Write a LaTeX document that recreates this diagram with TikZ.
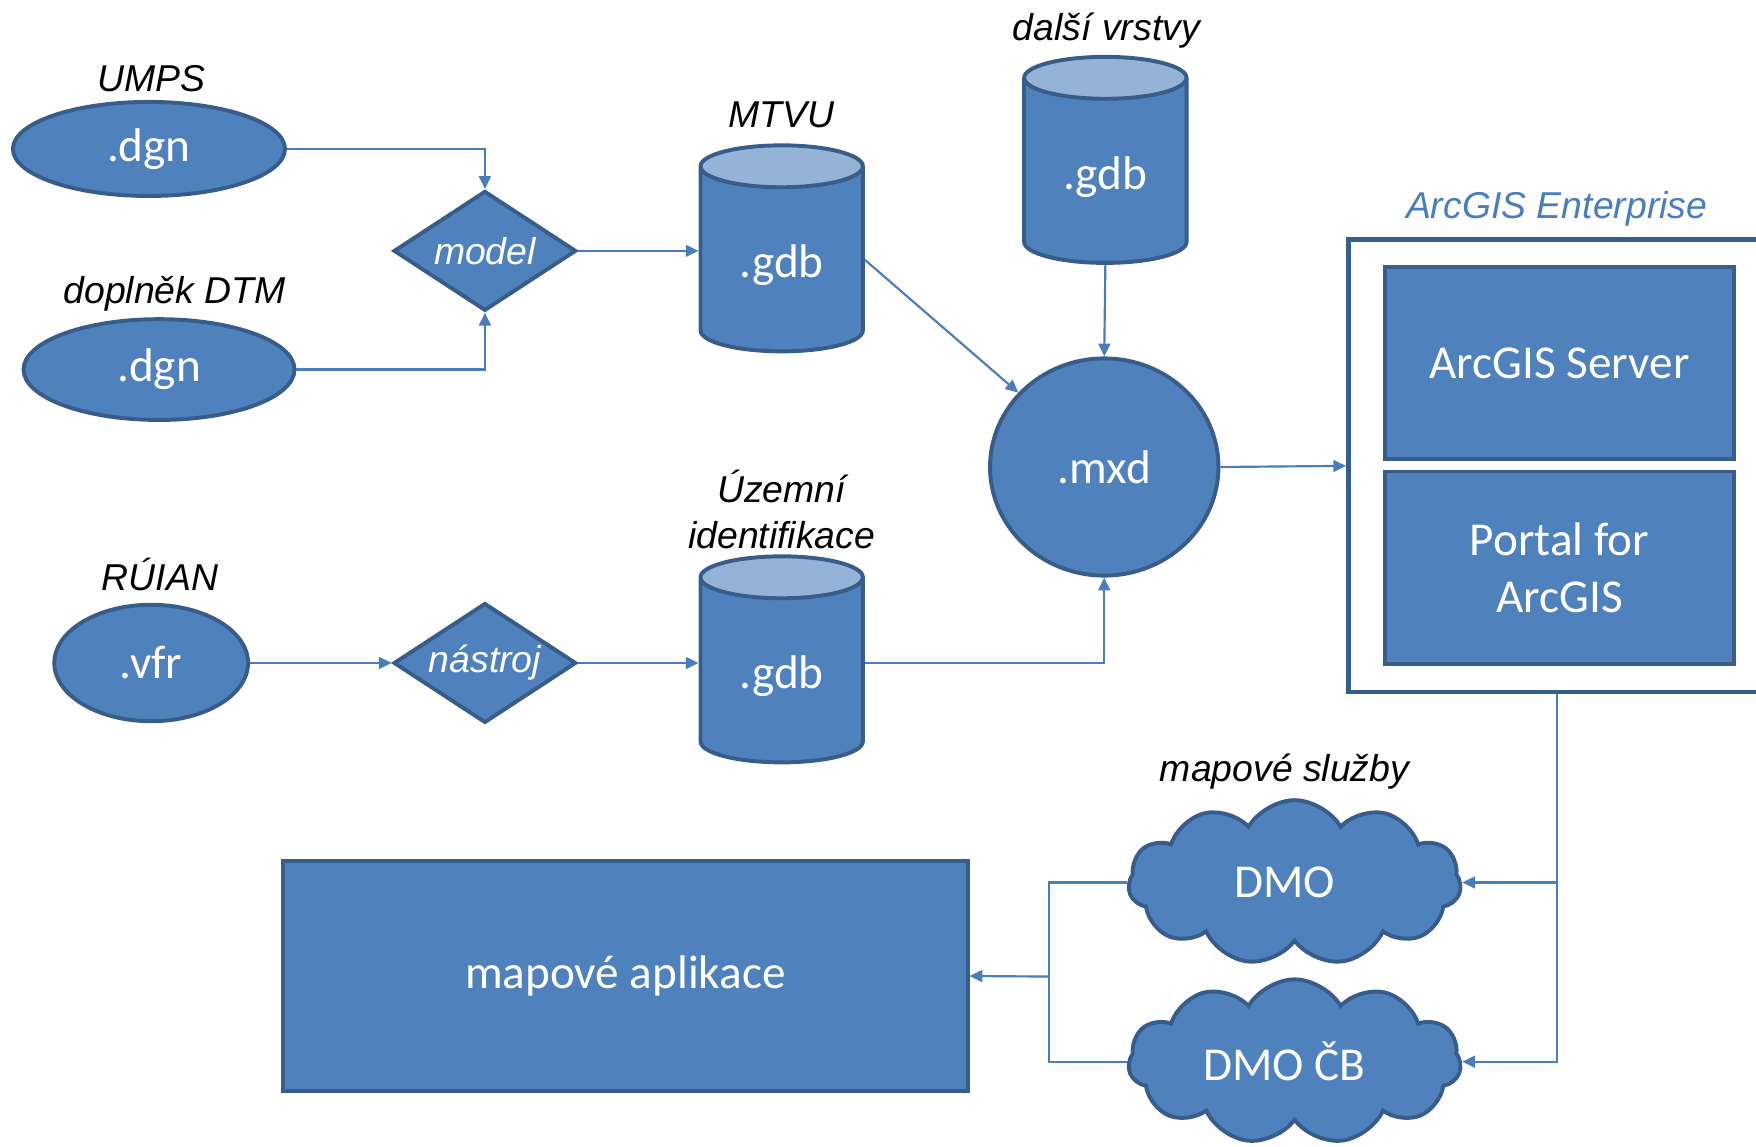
\documentclass[tikz,border=0pt]{standalone}
\usepackage{fontspec}
\setmainfont{Carlito}
\newfontfamily\arialfont{Liberation Sans}
\usepackage{tikz}
\usetikzlibrary{shapes.geometric, shapes.symbols, arrows.meta, positioning, calc}
\definecolor{shpfill}{RGB}{79,129,189}
\definecolor{shpline}{RGB}{56,93,138}
\definecolor{shptop}{RGB}{149,179,215}
\definecolor{connblue}{RGB}{74,126,187}
\newcommand{\shptxt}{\fontsize{24}{29}\selectfont}
\newcommand{\lbltxt}{\arialfont\itshape\fontsize{19}{23}\selectfont}
\tikzset{
  srcell/.style={ellipse, draw=shpline, fill=shpfill, line width=2pt,
    inner sep=0pt, text=white, font=\shptxt},
  tooldiam/.style={diamond, draw=shpline, fill=shpfill, line width=2pt,
    inner sep=0pt, aspect=1.52, minimum width=3.26cm, minimum height=2.14cm,
    text=white, font=\lbltxt},
  gdbcyl/.style={cylinder, shape border rotate=90, aspect=0.5,
    cylinder uses custom fill, cylinder body fill=shpfill, cylinder end fill=shptop,
    draw=shpline, line width=2pt, inner sep=0pt,
    text height=0.82cm, text depth=0.18cm,
    minimum width=2.9cm, minimum height=3.68cm, text=white, font=\shptxt},
  svcbox/.style={rectangle, draw=shpline, fill=shpfill, line width=2pt,
    align=center, text=white, font=\shptxt},
  svccloud/.style={cloud, cloud puffs=11, cloud puff arc=120, aspect=2,
    draw=shpline, fill=shpfill, line width=2pt, inner sep=0pt,
    minimum width=5.94cm, minimum height=2.94cm, text=white, font=\shptxt},
  lbl/.style={anchor=base, font=\lbltxt},
  arrow/.style={-{Triangle[length=6.5pt, width=6pt]}, line width=1.1pt, color=connblue},
  line/.style={line width=1.1pt, color=connblue}
}

\begin{document}
\begin{tikzpicture}[x=0.02cm, y=-0.02cm]
  \useasboundingbox (0,0) rectangle (1568,1024);
  \clip (0,0) rectangle (1568,1024);

  % sources
  \node[srcell, minimum width=4.86cm, minimum height=1.68cm] (umps) at (133,133) {.dgn};
  \node[srcell, minimum width=4.84cm, minimum height=1.8cm] (dtm) at (142,330) {.dgn};
  \node[srcell, minimum width=3.46cm, minimum height=2.08cm] (vfr) at (135,592) {.vfr};
  \node[lbl] at (135,82) {UMPS};
  \node[lbl] at (156,271) {doplněk DTM};
  \node[lbl] at (143,527) {RÚIAN};

  % tools
  \node[tooldiam] (model) at (433,224) {model};
  \node[tooldiam] (nastroj) at (433,592) {nástroj};

  % geodatabases
  \node[gdbcyl] (mtvu) at (698,232) {.gdb};
  \node[gdbcyl] (dalsi) at (987,153) {.gdb};
  \node[gdbcyl] (uzemni) at (698,599) {.gdb};
  \node[lbl] at (698,114) {MTVU};
  \node[lbl] at (988,36) {další vrstvy};
  \node[font=\lbltxt, align=center] at (698,455) {Územní\\identifikace};

  % map document
  \node[srcell, minimum width=4.08cm, minimum height=3.88cm, font=\shptxt] (mxd) at (986,417) {.mxd};

  % ArcGIS Enterprise
  \node[rectangle, draw=shpline, line width=2.3pt, minimum width=7.44cm, minimum height=8.08cm] (ent) at (1390,416) {};
  \node[lbl, text=connblue] at (1390,195) {ArcGIS Enterprise};
  \node[svcbox, minimum width=6.22cm, minimum height=3.44cm] (server) at (1392.5,324) {ArcGIS Server};
  \node[svcbox, minimum width=6.22cm, minimum height=3.44cm] (portal) at (1392.5,507) {Portal for\\ArcGIS};

  % services and applications
  \node[svccloud] (dmo) at (1156,788) {\hspace*{-0.36cm}DMO};
  \node[svccloud] (dmocb) at (1156,948) {\hspace*{-0.36cm}DMO ČB};
  \node[lbl] at (1147,698) {mapové služby};
  \node[svcbox, minimum width=12.22cm, minimum height=4.1cm] (app) at (558.5,871.5) {mapové aplikace};

  % connectors
  \draw[arrow] (umps.east) -| (model.north);
  \draw[arrow] (dtm.east) -| (model.south);
  \draw[arrow] (model.east) -- (model.east -| mtvu.west);
  \draw[arrow] (vfr.east) -- (nastroj.west);
  \draw[arrow] (nastroj.east) -- (nastroj.east -| uzemni.west);
  \draw[arrow] (mtvu.east) -- (mxd);
  \draw[arrow] (dalsi.south) -- (mxd.north);
  \draw[arrow] (uzemni.east |- nastroj.east) -| (mxd.south);
  \draw[arrow] (mxd.east) -- (ent.west);

  \coordinate (jr) at (ent.south |- dmo.east);
  \draw[arrow] (ent.south) |- (dmocb.east);
  \draw[arrow] (jr) -- (dmo.east);

  \coordinate (jl) at (937,872);
  \draw[line] (dmo.west) -| (jl);
  \draw[line] (dmocb.west) -| (jl);
  \draw[arrow] (jl) -- (app.east);
\end{tikzpicture}
\end{document}
